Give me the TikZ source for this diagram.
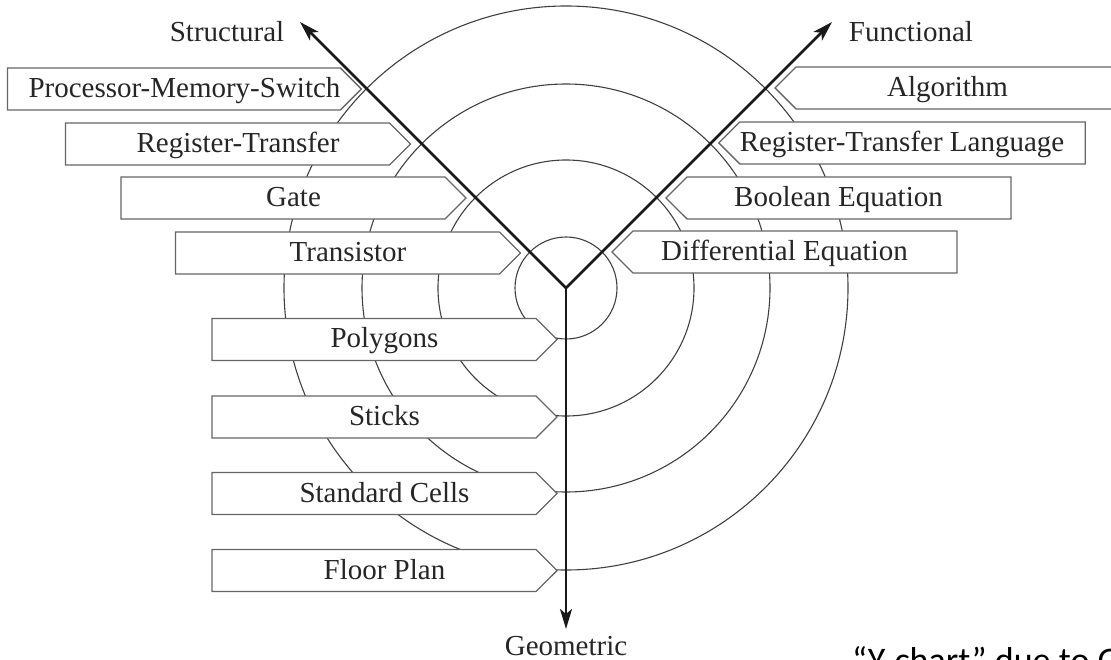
\documentclass[tikz,border=0pt]{standalone}
\usepackage{fontspec}
\setmainfont{Liberation Serif}
\newfontfamily\notefont{Carlito}
\usetikzlibrary{shapes.symbols,arrows.meta}

\tikzset{
  level/.style={draw=black!75,line width=1.1pt},
  tag/.style={signal,draw=black!60,line width=1.4pt,fill=white,text=black!85,
    minimum width=345pt,minimum height=42pt,inner sep=0pt,
    text height=22pt,text depth=5pt,font=\fontsize{29}{33}\selectfont},
  ltag/.style={tag,signal to=east,execute at begin node={\hspace*{21pt}}},
  rtag/.style={tag,signal to=west,execute at end node={\hspace*{21pt}}},
  axis/.style={line width=2.6pt,black!90},
  axistip/.tip={Stealth[length=20pt,width=12pt,inset=5pt]},
  axislabel/.style={text=black!85,inner sep=0pt,font=\fontsize{29}{33}\selectfont}
}

\begin{document}
\begin{tikzpicture}[x=1pt,y=-1pt]
  \useasboundingbox (0,0) rectangle (1111,660);
  %CENTRE and AXIS ENDS
  \coordinate (O) at (566,288);
  \coordinate (S) at (300,22);
  \coordinate (F) at (832,22);
  \coordinate (G) at (566,629);
  %CIRCLES
  \draw[level] (O) circle (51);
  \draw[level] (O) circle (128);
  \draw[level] (O) circle (204);
  \draw[level] (O) circle (282);
  %STRUCTURAL
  \node[ltag] (pms) at (174,89) {Processor-Memory-Switch};
  \node[ltag] (rt) at (227.5,144) {Register-Transfer};
  \node[ltag] (gate) at (283,198) {Gate};
  \node[ltag] (trans) at (337.5,253) {Transistor};
  %FUNCTIONAL
  \node[rtag] (alg) at (958,88) {Algorithm};
  \node[rtag,minimum width=362pt] (rtl) at (912.5,143) {Register-Transfer Language};
  \node[rtag] (bool) at (849,198) {Boolean Equation};
  \node[rtag] (diff) at (795,252) {Differential Equation};
  %GEOMETRIC
  \node[ltag] (poly) at (374,339.5) {Polygons};
  \node[ltag] (sticks) at (374,417) {Sticks};
  \node[ltag] (cells) at (374,493.5) {Standard Cells};
  \node[ltag] (plan) at (374,570.5) {Floor Plan};
  %AXES
  \draw[axis,axistip-axistip] (S) -- (O) -- (F);
  \draw[axis,-axistip] (O) -- (G);
  \node[axislabel,anchor=base] (struct) at (227,42) {Structural};
  \node[axislabel,anchor=base] (func) at (911,42) {Functional};
  \node[axislabel,anchor=base] (geom) at (566,655) {Geometric};
  %NOTE
  \node[anchor=base west,inner sep=0pt,font=\notefont\fontsize{36}{40}\selectfont] (note) at (852,672) {“Y-chart” due to G};
\end{tikzpicture}
\end{document}
